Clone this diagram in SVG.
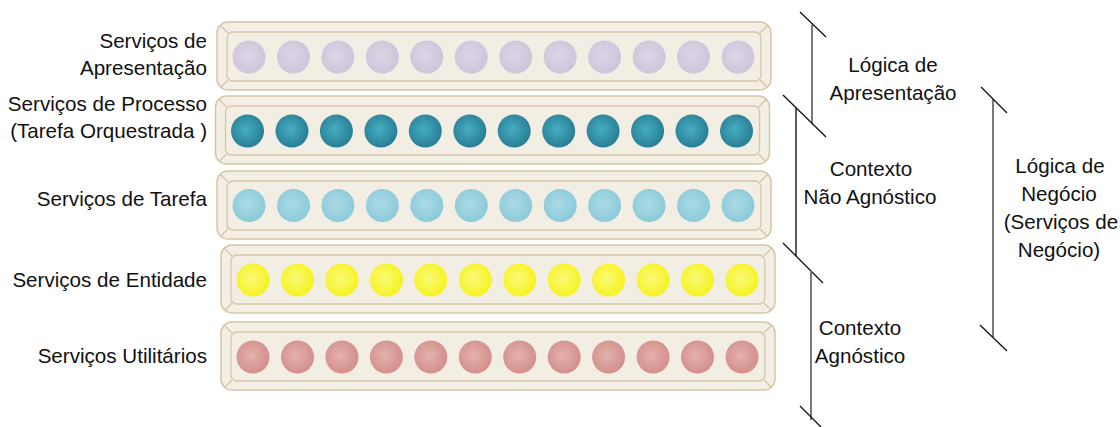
<svg xmlns="http://www.w3.org/2000/svg" width="1120" height="427" viewBox="0 0 1120 427">
<style>
text{font-family:"Liberation Sans",Arial,sans-serif;font-size:20.6px;fill:#111}
.r{text-anchor:end}
.m{text-anchor:middle}
.outer{fill:#f3efe4;stroke:#d6c6a8;stroke-width:1.5}
.inner{fill:#f2eee3;stroke:#d6c6a8;stroke-width:1.3}
.bev{stroke:#d6c6a8;stroke-width:1.3}
.v{stroke:#7a7a7a;stroke-width:2;fill:none}
.vd{stroke:#333;stroke-width:1.6;fill:none}
.t{stroke:#111;stroke-width:1.3;fill:none}
</style>
<defs>
<radialGradient id="gL" cx="0.45" cy="0.45" r="0.55"><stop offset="0" stop-color="#ddd6e6"/><stop offset="1" stop-color="#cfc4db"/></radialGradient>
<radialGradient id="gT" cx="0.45" cy="0.45" r="0.55"><stop offset="0" stop-color="#46adc3"/><stop offset="1" stop-color="#297f95"/></radialGradient>
<radialGradient id="gB" cx="0.45" cy="0.45" r="0.55"><stop offset="0" stop-color="#abdbe6"/><stop offset="1" stop-color="#8ccada"/></radialGradient>
<radialGradient id="gY" cx="0.45" cy="0.45" r="0.55"><stop offset="0" stop-color="#fafa78"/><stop offset="1" stop-color="#f6f222"/></radialGradient>
<radialGradient id="gP" cx="0.45" cy="0.45" r="0.55"><stop offset="0" stop-color="#e3b2ae"/><stop offset="1" stop-color="#d48f8b"/></radialGradient>
<g id="box">
<rect class="outer" x="0" y="0" width="554" height="68" rx="11"/>
<rect class="inner" x="10" y="10" width="534" height="49" rx="6"/>
<line class="bev" x1="3" y1="3" x2="11" y2="11"/>
<line class="bev" x1="4" y1="65" x2="11" y2="58"/>
<line class="bev" x1="551" y1="3" x2="543" y2="11"/>
<line class="bev" x1="550" y1="65" x2="543" y2="58"/>
</g>
<g id="row">
<circle cx="32" cy="35" r="16.5"/><circle cx="76.5" cy="35" r="16.5"/><circle cx="120.9" cy="35" r="16.5"/><circle cx="165.4" cy="35" r="16.5"/><circle cx="209.8" cy="35" r="16.5"/><circle cx="254.3" cy="35" r="16.5"/><circle cx="298.7" cy="35" r="16.5"/><circle cx="343.2" cy="35" r="16.5"/><circle cx="387.6" cy="35" r="16.5"/><circle cx="432.1" cy="35" r="16.5"/><circle cx="476.5" cy="35" r="16.5"/><circle cx="521" cy="35" r="16.5"/>
</g>
</defs>

<g id="apresentacao" transform="translate(217,22)">
<use href="#box"/><use href="#row" fill="url(#gL)"/>
</g>
<g id="processo" transform="translate(215.5,96)">
<use href="#box"/><use href="#row" fill="url(#gT)"/>
</g>
<g id="tarefa" transform="translate(217,171)">
<use href="#box"/><use href="#row" fill="url(#gB)" transform="translate(0,-0.5)"/>
</g>
<g id="entidade" transform="translate(221,245)">
<use href="#box"/><use href="#row" fill="url(#gY)"/>
</g>
<g id="utilitarios" transform="translate(221,322)">
<use href="#box"/><use href="#row" fill="url(#gP)"/>
</g>

<g id="labels">
<text class="r" x="207" y="48">Serviços de</text>
<text class="r" x="207" y="75">Apresentação</text>
<text class="r" x="207" y="111">Serviços de Processo</text>
<text class="r" x="207" y="138">(Tarefa Orquestrada )</text>
<text class="r" x="207" y="206">Serviços de Tarefa</text>
<text class="r" x="207" y="287">Serviços de Entidade</text>
<text class="r" x="207" y="363">Serviços Utilitários</text>
</g>

<g id="connectors">
<line class="v" x1="812" y1="25" x2="812" y2="124"/>
<line class="t" x1="800" y1="12" x2="826" y2="37"/>
<line class="t" x1="783" y1="95" x2="826" y2="137"/>
<line class="vd" x1="796" y1="108" x2="796" y2="256"/>
<line class="t" x1="783" y1="243" x2="823" y2="283"/>
<line class="v" x1="811" y1="271" x2="811" y2="420"/>
<line class="t" x1="800" y1="406" x2="821" y2="427"/>
<line class="v" x1="993" y1="99" x2="993" y2="337"/>
<line class="t" x1="981" y1="87" x2="1007" y2="113"/>
<line class="t" x1="980" y1="325" x2="1007" y2="351"/>
</g>

<g id="bracket-labels">
<text class="m" x="893" y="72">Lógica de</text>
<text class="m" x="893" y="100">Apresentação</text>
<text class="m" x="871" y="176">Contexto</text>
<text class="m" x="870" y="204">Não Agnóstico</text>
<text class="m" x="860" y="335">Contexto</text>
<text class="m" x="860" y="363">Agnóstico</text>
<text class="m" x="1060" y="173">Lógica de</text>
<text class="m" x="1059" y="201">Negócio</text>
<text class="m" x="1061" y="229">(Serviços de</text>
<text class="m" x="1059" y="257">Negócio)</text>
</g>
</svg>
